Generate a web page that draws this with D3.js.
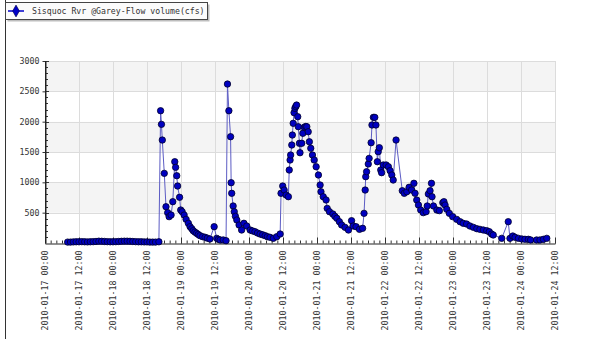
<!DOCTYPE html>
<html>
<head>
<meta charset="utf-8">
<script src="https://cdn.jsdelivr.net/npm/d3@7"></script>
<style>
  html, body { margin: 0; padding: 0; background: #ffffff; }
  svg { display: block; }
  text { font-family: "DejaVu Sans Mono", monospace; fill: #333; }
</style>
</head>
<body>
<svg id="chart" width="591" height="339"></svg>
<script>
// ---- data (hours after 2010-01-17 00:00, flow in cfs) ----
const seriesName = "Sisquoc Rvr @Garey-Flow volume(cfs)";
const startTime = "2010-01-17T00:00:00Z";
const endTime = "2010-01-24T12:00:00Z";
const hours = [
  8, 9, 10, 11, 12, 13, 14, 15, 16, 17, 18, 19, 20, 21, 22, 23,
  24, 25, 26, 27, 28, 29, 30, 31, 32, 33, 34, 35, 36, 37, 38, 39,
  40.2, 40.8, 41.1, 41.4, 42.1, 42.7, 43.3, 43.8, 44.5, 45.1, 45.8, 46.1, 46.5, 46.8, 47.5, 47.9,
  48.4, 49.1, 49.8, 50.6, 51.2, 51.8, 52.3, 52.9, 53.5, 54.1, 54.7, 55.6, 56.5, 57.3, 58.2, 59.7,
  60.6, 61.2, 61.8, 62.9, 63.9, 64.4, 64.9, 65.5, 65.7, 65.9, 66.4, 66.8, 67.2, 67.7, 68.5, 69.4,
  70.2, 71.2, 72.4, 73.2, 74.1, 75.0, 75.9, 76.8, 77.7, 78.5, 79.4, 80.6, 81.8, 83.0, 83.3, 83.9,
  84.4, 85.1, 85.9, 86.2, 86.5, 86.7, 87.1, 87.3, 87.6, 87.9, 88.2, 88.5, 88.8, 89.2, 89.4, 89.8,
  90.0, 90.6, 91.0, 91.5, 92.0, 92.4, 92.9, 93.3, 93.8, 94.4, 95.0, 95.7, 96.5, 97.1, 97.4, 98.2,
  99.2, 99.6, 100.4, 101.6, 102.3, 103.0, 103.9, 104.7, 105.9, 107.1, 108.2, 108.8, 109.8, 111.0, 112.1, 112.6,
  113.0, 113.2, 113.5, 114.1, 114.4, 115.1, 115.4, 115.9, 116.4, 116.8, 117.3, 117.6, 118.0, 118.5, 118.8, 119.4,
  120.4, 121.2, 121.8, 122.4, 122.9, 123.9, 126.1, 126.8, 127.7, 128.5, 129.4, 130.2, 130.6, 131.2, 131.8, 132.6,
  133.5, 134.5, 134.9, 135.3, 135.9, 136.4, 136.6, 137.1, 138.3, 139.2, 140.4, 140.8, 141.2, 141.8, 142.7, 143.9,
  145.3, 146.5, 147.6, 148.8, 150.0, 151.2, 152.4, 153.5, 154.7, 155.9, 156.8, 157.6, 158.2, 161.2, 163.5, 164.1,
  165.1, 165.9, 167.1, 168.3, 169.4, 170.6, 171.4, 173.5, 174.7, 175.9, 177.1
];
const flow = [
  15, 15, 18, 20, 20, 22, 20, 18, 20, 22, 25, 30, 28, 25, 22, 20,
  20, 22, 25, 28, 30, 30, 28, 25, 22, 20, 20, 18, 18, 15, 15, 15,
  20, 2180, 1956, 1697, 1148, 598, 500, 434, 461, 681, 1340, 1247, 1109, 939, 753, 544,
  516, 461, 390, 325, 269, 235, 203, 180, 160, 140, 121, 105, 94, 80, 66, 269,
  77, 60, 50, 50, 38, 2620, 2180, 1752, 994, 819, 610, 516, 440, 379, 297, 214,
  325, 280, 214, 200, 187, 165, 148, 135, 121, 105, 94, 77, 104, 148, 819, 939,
  873, 791, 763, 1203, 1368, 1450, 1615, 1780, 1973, 2148, 2220, 2250, 2274, 2082, 1917, 1643,
  1488, 1643, 1808, 1907, 1920, 1917, 1834, 1669, 1561, 1450, 1368, 1257, 1121, 956, 845, 763,
  709, 571, 516, 478, 440, 407, 351, 297, 258, 214, 368, 280, 269, 225, 242, 489,
  873, 1093, 1175, 1302, 1395, 1653, 1945, 2071, 2071, 1945, 1340, 1505, 1571, 1203, 1159, 1286,
  1286, 1257, 1192, 1121, 1038, 1697, 862, 819, 845, 918, 873, 984, 819, 709, 626, 544,
  500, 516, 610, 808, 862, 984, 763, 610, 544, 533, 665, 681, 626, 555, 489, 434,
  390, 351, 325, 313, 280, 258, 236, 225, 214, 203, 187, 148, 132, 77, 351, 77,
  115, 94, 77, 66, 61, 61, 50, 50, 50, 61, 77
];
const yTickValues = [500, 1000, 1500, 2000, 2500, 3000];
const yDomain = [0, 3000];

// ---- layout ----
const W = 591, H = 339;
const plot = { left: 45, right: 555, top: 61, bottom: 243 };

const svg = d3.select("#chart");
const t0 = new Date(startTime);
const data = hours.map((h, i) => ({ t: d3.utcMinute.offset(t0, Math.round(h * 60)), v: flow[i] }));

const x = d3.scaleUtc().domain([t0, new Date(endTime)]).range([plot.left, plot.right]);
const y = d3.scaleLinear().domain(yDomain).range([plot.bottom, plot.top]);

// background bands
const bandEdges = d3.range(yDomain[0], yDomain[1], 500);
svg.append("g").selectAll("rect").data(bandEdges).join("rect")
  .attr("x", plot.left)
  .attr("width", plot.right - plot.left)
  .attr("y", d => y(d + 500))
  .attr("height", d => y(d) - y(d + 500))
  .attr("fill", (d, i) => (i % 2 === 1 ? "#f4f4f4" : "#ffffff"));

// grid
const majorTicks = x.ticks(d3.utcHour.every(12));
const grid = svg.append("g").attr("stroke", "#dcdcdc").attr("stroke-width", 1);
grid.selectAll("line.v").data(majorTicks).join("line")
  .attr("x1", d => Math.round(x(d)) + 0.5).attr("x2", d => Math.round(x(d)) + 0.5)
  .attr("y1", plot.top).attr("y2", plot.bottom);
grid.selectAll("line.h").data(yTickValues).join("line")
  .attr("x1", plot.left).attr("x2", plot.right)
  .attr("y1", d => Math.round(y(d)) + 0.5).attr("y2", d => Math.round(y(d)) + 0.5);

// x axis minor ticks (2h)
const xMinor = d3.axisBottom(x).ticks(d3.utcHour.every(2)).tickSize(-3).tickFormat("");
svg.append("g").attr("transform", `translate(0,${plot.bottom + 0.5})`).call(xMinor)
  .call(g => g.select(".domain").remove())
  .call(g => g.selectAll("line").attr("stroke", "#333"));

// x axis major ticks + labels
const fmt = d3.utcFormat("%Y-%m-%d %H:%M");
const xMajor = d3.axisBottom(x).ticks(d3.utcHour.every(12)).tickSize(-6).tickSizeOuter(0).tickFormat(fmt);
svg.append("g").attr("transform", `translate(0,${plot.bottom + 0.5})`).call(xMajor)
  .call(g => g.select(".domain").attr("stroke", "#222"))
  .call(g => g.selectAll("line").attr("stroke", "#333"))
  .call(g => g.selectAll("text")
    .attr("transform", "rotate(-90)")
    .attr("x", -7).attr("y", 0).attr("dy", "0.35em")
    .style("text-anchor", "end")
    .style("font-family", "DejaVu Sans Mono")
    .style("font-size", "8.3px")
    .attr("fill", "#333"));

// y axis
const yMinorVals = d3.range(100, 3001, 100);
svg.append("g").attr("stroke", "#333").selectAll("line").data(yMinorVals).join("line")
  .attr("x1", plot.left).attr("x2", d => (d % 500 === 0 ? plot.left + 4 : plot.left + 3))
  .attr("y1", d => Math.round(y(d)) + 0.5).attr("y2", d => Math.round(y(d)) + 0.5);
const yAxis = d3.axisLeft(y).tickValues(yTickValues).tickSize(3).tickSizeOuter(0).tickFormat(d3.format("d"));
svg.append("g").attr("transform", `translate(${plot.left + 0.5},0)`).call(yAxis)
  .call(g => g.select(".domain").attr("stroke", "#222"))
  .call(g => g.selectAll("line").attr("stroke", "#333"))
  .call(g => g.selectAll("text")
    .attr("x", -6)
    .style("font-family", "DejaVu Sans Mono")
    .style("font-size", "8.3px")
    .attr("fill", "#333"));
svg.append("line").attr("x1", plot.left + 0.5).attr("x2", plot.left + 0.5)
  .attr("y1", plot.top).attr("y2", plot.bottom).attr("stroke", "#222");

// series line
const line = d3.line().x(d => x(d.t)).y(d => y(d.v));
svg.append("path").datum(data)
  .attr("d", line)
  .attr("fill", "none")
  .attr("stroke", "#5c5cc4")
  .attr("stroke-width", 1);

// points
svg.append("g").selectAll("circle").data(data).join("circle")
  .attr("cx", d => x(d.t)).attr("cy", d => y(d.v))
  .attr("r", 3.2)
  .attr("fill", "#0000c0")
  .attr("stroke", "#00002a")
  .attr("stroke-width", 0.8);

// left frame line
svg.append("line").attr("x1", 5.5).attr("x2", 5.5).attr("y1", 0).attr("y2", H)
  .attr("stroke", "#333");

// legend
const lg = svg.append("g");
lg.append("rect").attr("x", 7.5).attr("y", 4.5).attr("width", 202).attr("height", 17).attr("fill", "#bdbdbd");
lg.append("rect").attr("x", 5.5).attr("y", 2.5).attr("width", 202).attr("height", 17)
  .attr("fill", "#fbfbfb").attr("stroke", "#444");
lg.append("line").attr("x1", 8).attr("x2", 24).attr("y1", 11).attr("y2", 11)
  .attr("stroke", "#0000c8").attr("stroke-width", 1.5);
lg.append("path").attr("d", d3.symbol(d3.symbolDiamond, 40)())
  .attr("transform", "translate(16,11)")
  .attr("fill", "#0000c8").attr("stroke", "#00003a").attr("stroke-width", 0.6);
lg.append("text").attr("x", 32).attr("y", 14)
  .style("font-size", "8.2px").attr("fill", "#333").text(seriesName);
</script>
</body>
</html>
